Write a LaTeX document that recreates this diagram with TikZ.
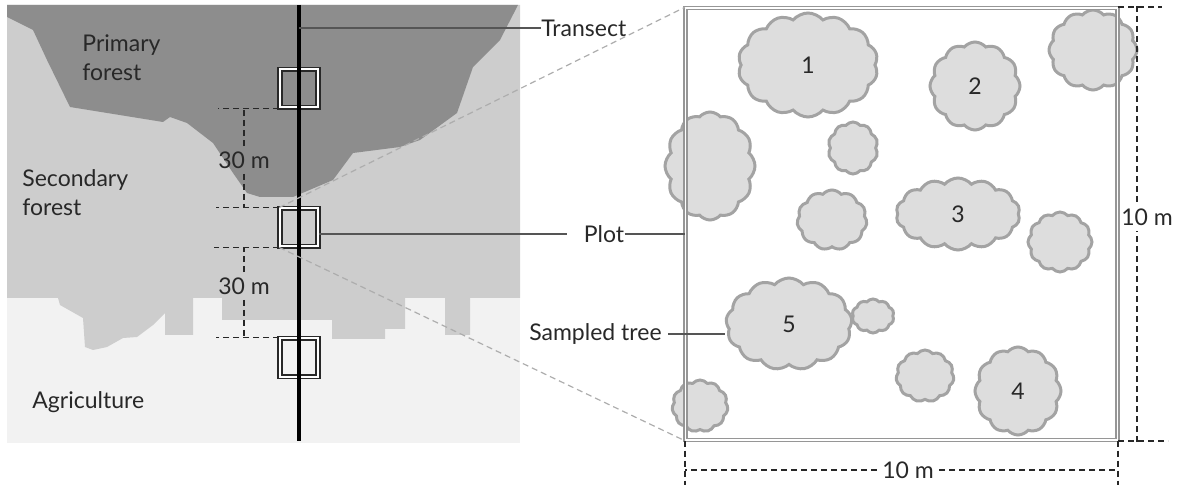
\documentclass[tikz,border=0pt]{standalone}
\usepackage{fontspec}
\setmainfont{Lato}
\usetikzlibrary{shapes.symbols}

\definecolor{primgray}{RGB}{141,141,141}
\definecolor{secgray}{RGB}{205,205,205}
\definecolor{agrgray}{RGB}{242,242,242}
\definecolor{treefill}{RGB}{221,221,221}
\definecolor{treeline}{RGB}{163,163,163}
\definecolor{plotline}{RGB}{150,150,150}
\definecolor{inkgray}{RGB}{40,40,40}
\definecolor{leadgray}{RGB}{85,85,85}

\begin{document}
\begin{tikzpicture}[x=0.5pt,y=-0.5pt,
 font=\fontsize{11.5}{14.5}\selectfont,
 lbl/.style={inner sep=0pt, text=inkgray},
 dimlbl/.style={inner sep=2.5pt, text=inkgray},
 tree/.style={cloud, cloud ignores aspect, draw=treeline, fill=treefill,
  line width=1.5pt, inner sep=0pt, cloud puff arc=100, text=inkgray},
 sqbox/.style={draw=inkgray, double=white, line width=0.9pt,
  double distance=1pt, minimum size=19pt, inner sep=0pt},
 dimline/.style={draw=inkgray, line width=0.8pt, dash pattern=on 3pt off 2pt},
 proj/.style={draw=black!32, line width=0.6pt, dash pattern=on 3pt off 2pt},
 lead/.style={draw=leadgray, line width=0.75pt}]
\useasboundingbox (0,0) rectangle (1189,486);

% land cover along the transect
\fill[agrgray] (7,5) rectangle (520,443);
\fill[secgray] (7,5) -- (520,5) -- (520,298) -- (470,298) -- (470,335)
 -- (445,335) -- (445,298) -- (405,298) -- (405,329) -- (385,329)
 -- (385,339) -- (332,339) -- (332,320) -- (222,320) -- (222,298)
 -- (193,298) -- (193,335) -- (165,335) -- (165,313) -- (153,325)
 -- (137,337) -- (123,338) -- (107,347) -- (93,350) -- (85,347)
 -- (83,318) -- (60,305) -- (58,298) -- (7,298) -- cycle;
\fill[primgray] (7,5) -- (518,5) -- (500,40) -- (473,67) -- (457,113)
 -- (420,140) -- (400,147) -- (353,153) -- (333,180) -- (293,197)
 -- (260,197) -- (247,193) -- (233,173) -- (213,143) -- (187,123)
 -- (170,117) -- (163,122) -- (70,107) -- (47,60) -- (33,30)
 -- (7,17) -- cycle;

% plots on the transect
\node[sqbox] (sq1) at (299,88.5) {};
\node[sqbox] (sq2) at (299,227.5) {};
\node[sqbox] (sq3) at (299,357.5) {};
\coordinate (ttop) at (299,5);
\coordinate (tbot) at (299,441);
\draw[line width=2pt] (ttop) -- (tbot);

% trees in the plot
\node[tree, minimum width=70pt, minimum height=52pt, cloud puffs=14] (tree1) at (808,65) {1};
\node[tree, minimum width=45pt, minimum height=44pt, cloud puffs=12] (tree2) at (975,86) {2};
\node[tree, minimum width=44pt, minimum height=40pt, cloud puffs=12] (treeA) at (1093,50) {};
\node[tree, minimum width=25pt, minimum height=26pt, cloud puffs=10] (treeB) at (853,148) {};
\node[tree, minimum width=45pt, minimum height=54pt, cloud puffs=12] (treeC) at (710,166) {};
\node[tree, minimum width=35pt, minimum height=30pt, cloud puffs=11] (treeD) at (832,220) {};
\node[tree, minimum width=62pt, minimum height=36pt, cloud puffs=14] (tree3) at (958,214) {3};
\node[tree, minimum width=32pt, minimum height=30pt, cloud puffs=12] (treeE) at (1060,242) {};
\node[tree, minimum width=63pt, minimum height=46pt, cloud puffs=13] (tree5) at (789,324) {5};
\node[tree, minimum width=21pt, minimum height=17pt, cloud puffs=10] (treeF) at (873,316) {};
\node[tree, minimum width=29pt, minimum height=26pt, cloud puffs=11] (treeG) at (925,376) {};
\node[tree, minimum width=43pt, minimum height=44pt, cloud puffs=12] (tree4) at (1018,391) {4};
\node[tree, minimum width=28pt, minimum height=26pt, cloud puffs=11] (treeH) at (700,406) {};

\node[draw=plotline, double=white, line width=0.7pt, double distance=0.9pt,
 minimum width=216pt, minimum height=216pt, inner sep=0pt] (plot) at (901.5,224) {};
\draw[proj] (sq2.north west) -- (plot.north west);
\draw[proj] (sq2.south west) -- (plot.south west);

% labels
\node[lbl, anchor=north west, align=left] (prim) at (82,34) {Primary\\forest};
\node[lbl, anchor=north west, align=left] (sec) at (22,169) {Secondary\\forest};
\node[lbl, anchor=west] (agri) at (32,402) {Agriculture};
\node[lbl, anchor=west] (trlbl) at (541,28) {Transect};
\node[lbl] (plotlbl) at (604,234) {Plot};
\node[lbl, anchor=east] (samp) at (662,334) {Sampled tree};
\draw[lead] (ttop |- trlbl.west) -- (trlbl.west);
\draw[lead] (sq2.east |- plotlbl.west) -- ([xshift=-8pt]plotlbl.west);
\draw[lead] (plotlbl.east) -- (plot.west |- plotlbl.east);
\draw[lead] ([xshift=3pt]samp.east) -- (tree5.west |- samp.east);

% spacing along the transect
\node[dimlbl] (dim1) at (244,160) {30 m};
\draw[dimline] (sq1.south west) -- ++(-61,0);
\draw[dimline] (dim1.north) -- (dim1.north |- sq1.south west);
\draw[dimline] (dim1.south) -- (dim1.south |- sq2.north west);
\draw[dimline] (sq2.north west) -- ++(-63,0);
\node[dimlbl] (dim2) at (244,286) {30 m};
\draw[dimline] (sq2.south west) -- ++(-65,0);
\draw[dimline] (dim2.north) -- (dim2.north |- sq2.south west);
\draw[dimline] (dim2.south) -- (dim2.south |- sq3.north west);
\draw[dimline] (sq3.north west) -- ++(-63,0);

% plot size
\coordinate (rtop) at (1137,6);
\coordinate (rbot) at (1137,442);
\node[dimlbl] (dim3) at (1147,217) {10 m};
\draw[dimline] (plot.north east) -- ++(44,0);
\draw[dimline] (plot.south east) -- ++(50,0);
\draw[dimline] (rtop) -- (rtop |- dim3.north);
\draw[dimline] (rbot) -- (rbot |- dim3.south);
\node[dimlbl] (dim4) at (908,470) {10 m};
\draw[dimline] (plot.south west) -- ++(0,44);
\draw[dimline] (plot.south east) -- ++(0,44);
\draw[dimline] (dim4.west) -- (dim4.west -| plot.south west);
\draw[dimline] (dim4.east) -- (dim4.east -| plot.south east);
\end{tikzpicture}
\end{document}
